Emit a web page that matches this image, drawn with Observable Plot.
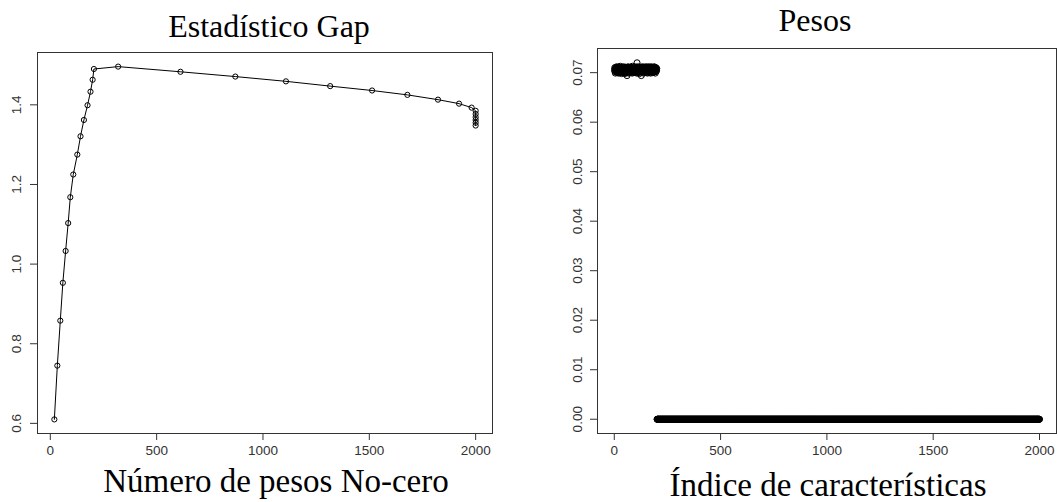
<!DOCTYPE html>
<html>
<head>
<meta charset="utf-8">
<script src="https://cdn.jsdelivr.net/npm/d3@7"></script>
<script src="https://cdn.jsdelivr.net/npm/@observablehq/plot@0.6"></script>
<style>
  body { margin: 0; background: #fff; }
  #page { position: relative; width: 1058px; height: 502px; overflow: hidden; background: #fff; }
  .panel { position: absolute; }
  .lbl { position: absolute; font-family: "Liberation Serif", serif; color: #000; white-space: nowrap;
         line-height: 1; transform: translateX(-50%); }
</style>
</head>
<body>
<div id="page"></div>
<script>
// Gap statistic against the number of non-zero weights
const gapNonzero = [19, 33, 47, 59, 72, 84, 94, 108, 127, 142, 158, 175, 189, 199, 205,
  319, 612, 870, 1108, 1316, 1513, 1679, 1823, 1922, 1981, 2000, 2000, 2000, 2000, 2000, 2000];
const gapStat = [0.610, 0.745, 0.858, 0.953, 1.033, 1.103, 1.168, 1.225, 1.275, 1.321, 1.362, 1.399, 1.433, 1.463, 1.490,
  1.496, 1.483, 1.471, 1.459, 1.447, 1.436, 1.425, 1.413, 1.403, 1.393, 1.385, 1.377, 1.369, 1.362, 1.355, 1.348];
const gapXTicks = [0, 500, 1000, 1500, 2000];
const gapYTicks = [0.6, 0.8, 1.0, 1.2, 1.4];

// Feature weights: the first 200 features carry weight, the rest are zero
const weightsSelected = [
  0.0705,0.0710,0.0702,0.0708,0.0699,0.0706,0.0711,0.0703,0.0707,0.0701,0.0709,0.0704,0.0712,0.0700,0.0706,0.0708,0.0703,0.0710,0.0705,0.0699,
  0.0707,0.0702,0.0711,0.0704,0.0709,0.0700,0.0706,0.0713,0.0703,0.0708,0.0701,0.0705,0.0710,0.0698,0.0707,0.0704,0.0711,0.0702,0.0709,0.0706,
  0.0700,0.0708,0.0703,0.0712,0.0705,0.0701,0.0709,0.0706,0.0698,0.0710,0.0704,0.0707,0.0702,0.0711,0.0705,0.0700,0.0708,0.0703,0.0709,0.0694,
  0.0706,0.0711,0.0701,0.0707,0.0704,0.0712,0.0699,0.0708,0.0705,0.0702,0.0710,0.0706,0.0700,0.0709,0.0703,0.0711,0.0707,0.0701,0.0705,0.0708,
  0.0702,0.0710,0.0706,0.0699,0.0713,0.0704,0.0708,0.0701,0.0707,0.0705,0.0711,0.0700,0.0709,0.0703,0.0706,0.0712,0.0702,0.0708,0.0704,0.0710,
  0.0701,0.0707,0.0705,0.0711,0.0699,0.0708,0.0720,0.0703,0.0709,0.0706,0.0700,0.0712,0.0704,0.0707,0.0702,0.0710,0.0705,0.0698,0.0709,0.0706,
  0.0703,0.0711,0.0700,0.0708,0.0705,0.0702,0.0694,0.0710,0.0706,0.0704,0.0712,0.0701,0.0707,0.0709,0.0703,0.0705,0.0711,0.0699,0.0708,0.0706,
  0.0702,0.0710,0.0704,0.0707,0.0700,0.0712,0.0705,0.0709,0.0703,0.0706,0.0711,0.0701,0.0708,0.0704,0.0710,0.0699,0.0707,0.0705,0.0712,0.0702,
  0.0709,0.0706,0.0700,0.0711,0.0704,0.0708,0.0702,0.0710,0.0705,0.0707,0.0699,0.0712,0.0703,0.0709,0.0706,0.0701,0.0711,0.0704,0.0708,0.0705,
  0.0700,0.0710,0.0707,0.0703,0.0709,0.0706,0.0712,0.0701,0.0708,0.0704,0.0711,0.0705,0.0699,0.0709,0.0706,0.0702,0.0710,0.0707,0.0704,0.0708
];
const zeroWeightCount = 1800;
const weightXTicks = [0, 500, 1000, 1500, 2000];
const weightYTicks = [0.00, 0.01, 0.02, 0.03, 0.04, 0.05, 0.06, 0.07];

// Build the tables the marks read from
const gapData = gapNonzero.map((x, i) => ({x, y: gapStat[i]}));
const weightValues = weightsSelected.concat(new Array(zeroWeightCount).fill(0));
const weightData = weightValues.map((w, i) => ({index: i + 1, w}));

// Axis ranges padded by 4% on each side, as in base R graphics
function padded(values) {
  const [lo, hi] = d3.extent(values);
  const span = hi - lo;
  return [lo - 0.04 * span, hi + 0.04 * span];
}

const axisColor = "#333";

function panelMarks(xTicks, yTicks, yFmt, yLabelOffset, dataMarks) {
  return [
    ...dataMarks,
    Plot.frame({stroke: axisColor, strokeWidth: 1}),
    Plot.axisX(xTicks, {tickSize: 7, tickPadding: 5, fontSize: 13.5, color: axisColor,
      tickFormat: d => String(d), label: null}),
    Plot.axisY(yTicks, {tickSize: 7, color: axisColor, tickFormat: () => "", label: null}),
    Plot.text(yTicks, {y: d => d, frameAnchor: "left", dx: yLabelOffset, rotate: -90,
      text: yFmt, lineAnchor: "middle", textAnchor: "middle", fontSize: 13.5, fill: axisColor})
  ];
}

const svgStyle = {fontFamily: "'Liberation Sans', Arial, sans-serif", fontSize: "13.5px",
  background: "transparent", overflow: "visible"};

const gapPlot = Plot.plot({
  width: 500, height: 420,
  marginLeft: 37, marginRight: 8, marginTop: 7, marginBottom: 32,
  style: svgStyle,
  x: {domain: padded(gapNonzero)},
  y: {domain: padded(gapStat)},
  marks: panelMarks(gapXTicks, gapYTicks, d => d.toFixed(1), -20.5, [
    Plot.line(gapData, {x: "x", y: "y", stroke: "black", strokeWidth: 1}),
    Plot.dot(gapData, {x: "x", y: "y", r: 2.6, stroke: "black", fill: "none", strokeWidth: 1})
  ])
});

const weightPlot = Plot.plot({
  width: 518, height: 425,
  marginLeft: 57, marginRight: 2, marginTop: 8, marginBottom: 32,
  style: svgStyle,
  x: {domain: padded(weightData.map(d => d.index))},
  y: {domain: padded(weightValues)},
  marks: panelMarks(weightXTicks, weightYTicks, d => d.toFixed(2), -19.5, [
    Plot.dot(weightData, {x: "index", y: "w", r: 3, stroke: "black", fill: "none", strokeWidth: 1})
  ])
});

const page = document.getElementById("page");
function place(node, left, top) {
  const wrap = document.createElement("div");
  wrap.className = "panel";
  wrap.style.left = left + "px";
  wrap.style.top = top + "px";
  wrap.appendChild(node);
  page.appendChild(wrap);
}
place(gapPlot, 0, 45);
place(weightPlot, 540, 40);

// Titles and axis titles, placed by centre and baseline
function label(text, cx, baseline, size) {
  const el = document.createElement("div");
  el.className = "lbl";
  el.textContent = text;
  el.style.fontSize = size + "px";
  el.style.left = cx + "px";
  el.style.top = (baseline - 0.8375 * size) + "px";
  page.appendChild(el);
}
label("Estadístico Gap", 269, 37, 32);
label("Pesos", 815, 31, 32);
label("Número de pesos No-cero", 276, 493, 33);
label("Índice de características", 828, 497, 33);
</script>
</body>
</html>
